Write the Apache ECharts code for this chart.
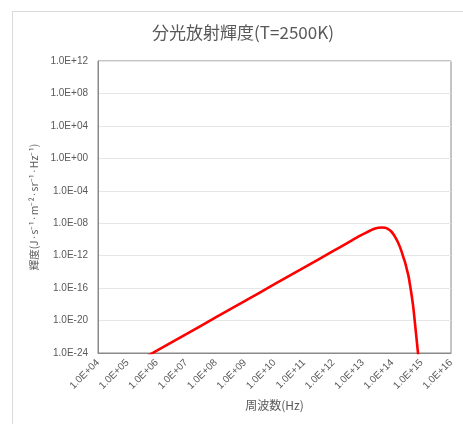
<!DOCTYPE html>
<html>
<head>
<meta charset="utf-8">
<script src="https://cdn.jsdelivr.net/npm/echarts@6/dist/echarts.min.js"></script>
<style>
  html, body { margin: 0; padding: 0; background: #ffffff; }
  #chart { width: 463px; height: 424px; }
</style>
</head>
<body>
<div id="chart"></div>
<script>
// Spectral radiance of a 2500 K black body against frequency (log-log)
const frequency = [
  5.0e5, 1.0e6, 1.0e7, 1.0e8, 1.0e9, 1.0e10, 1.0e11, 1.0e12, 3.16e12, 7.9e12,
  1.26e13, 1.8e13, 2.5e13, 3.44e13, 4.5e13, 5.8e13, 7.1e13, 8.6e13, 1.05e14,
  1.27e14, 1.51e14, 1.79e14, 2.09e14, 2.44e14, 2.79e14, 3.16e14, 3.61e14,
  3.98e14, 4.47e14, 4.9e14, 5.35e14, 6.1e14, 6.98e14, 7.94e14
];
const radiance = [
  4.7e-25, 1.9e-24, 2.1e-22, 2.4e-20, 2.7e-18, 3.0e-16, 3.4e-14, 3.8e-12, 4.1e-11, 2.7e-10,
  6.6e-10, 1.26e-9, 2.1e-9, 2.7e-9, 3.0e-9, 2.7e-9, 2.0e-9, 1.26e-9, 5.6e-10,
  1.95e-10, 6.0e-11, 1.5e-11, 3.2e-12, 5.5e-13, 1.2e-13, 2.0e-14, 2.8e-15,
  3.5e-16, 2.5e-17, 2.5e-18, 2.1e-19, 1.9e-21, 1.7e-23, 1.6e-25
];

// Decade ticks and their labels
const xTickValues = [1e4, 1e5, 1e6, 1e7, 1e8, 1e9, 1e10, 1e11, 1e12, 1e13, 1e14, 1e15, 1e16];
const xTickLabels = ['1.0E+04', '1.0E+05', '1.0E+06', '1.0E+07', '1.0E+08', '1.0E+09', '1.0E+10',
                     '1.0E+11', '1.0E+12', '1.0E+13', '1.0E+14', '1.0E+15', '1.0E+16'];
const yTickValues = [1e-24, 1e-20, 1e-16, 1e-12, 1e-8, 1e-4, 1e0, 1e4, 1e8, 1e12];
const yTickLabels = ['1.0E-24', '1.0E-20', '1.0E-16', '1.0E-12', '1.0E-08',
                     '1.0E-04', '1.0E+00', '1.0E+04', '1.0E+08', '1.0E+12'];

const titleText = '分光放射輝度(T=2500K)';
const xName = '周波数(Hz)';
const yName = '輝度(J·s⁻¹·m⁻²·sr⁻¹·Hz⁻¹)';

function labelFor(value, values, labels) {
  if (!(value > 0)) return '';
  const e = Math.round(Math.log10(value));
  for (let i = 0; i < values.length; i++) {
    if (Math.round(Math.log10(values[i])) === e) return labels[i];
  }
  return '';
}

const seriesData = frequency.map((f, i) => [f, radiance[i]]);

const textGray = '#595959';
const baseFont = '"Liberation Sans", "Noto Sans CJK JP", sans-serif';
const cjkFont = '"Noto Sans CJK JP", "Liberation Sans", sans-serif';

const chart = echarts.init(document.getElementById('chart'), null, { renderer: 'canvas' });
chart.setOption({
  animation: false,
  backgroundColor: '#ffffff',
  graphic: [
    {
      type: 'rect',
      shape: { x: 12.5, y: 11.5, width: 520, height: 500 },
      style: { fill: 'none', stroke: '#d9d9d9', lineWidth: 1 },
      silent: true
    },
    {
      type: 'text',
      x: 243, y: 33,
      style: {
        text: titleText,
        fill: textGray,
        font: '17px ' + cjkFont,
        align: 'center',
        verticalAlign: 'middle'
      }
    }
  ],
  grid: {
    left: 98, top: 61, right: 12, bottom: 71,
    outerBoundsMode: 'none',
    show: true,
    borderColor: '#898989',
    borderWidth: 1,
    backgroundColor: 'transparent'
  },
  xAxis: {
    type: 'log',
    logBase: 10,
    min: 1e4,
    max: 1e16,
    name: xName,
    nameLocation: 'middle',
    nameGap: 46,
    nameTextStyle: { color: textGray, fontSize: 12, fontFamily: cjkFont },
    axisLine: { show: true, lineStyle: { color: '#898989', width: 1 } },
    axisTick: { show: false, customValues: xTickValues },
    splitLine: { show: false },
    axisLabel: {
      customValues: xTickValues,
      rotate: 45,
      margin: 8,
      color: textGray,
      fontSize: 10,
      fontFamily: baseFont,
      formatter: v => labelFor(v, xTickValues, xTickLabels)
    }
  },
  yAxis: {
    type: 'log',
    logBase: 10,
    min: 1e-24,
    max: 1e12,
    name: yName,
    nameLocation: 'middle',
    nameGap: 55,
    nameRotate: 90,
    nameTextStyle: { color: textGray, fontSize: 10.5, fontFamily: cjkFont },
    axisLine: { show: true, lineStyle: { color: '#898989', width: 1 } },
    axisTick: { show: false, customValues: yTickValues },
    splitLine: { show: true, lineStyle: { color: '#e6e6e6', width: 1 } },
    axisLabel: {
      customValues: yTickValues,
      margin: 10,
      color: textGray,
      fontSize: 10,
      fontFamily: baseFont,
      formatter: v => labelFor(v, yTickValues, yTickLabels)
    }
  },
  series: [
    {
      type: 'line',
      data: seriesData,
      showSymbol: false,
      smooth: 0.3,
      clip: true,
      lineStyle: { color: '#ff0000', width: 2.6 },
      itemStyle: { color: '#ff0000' }
    }
  ]
});
</script>
</body>
</html>
